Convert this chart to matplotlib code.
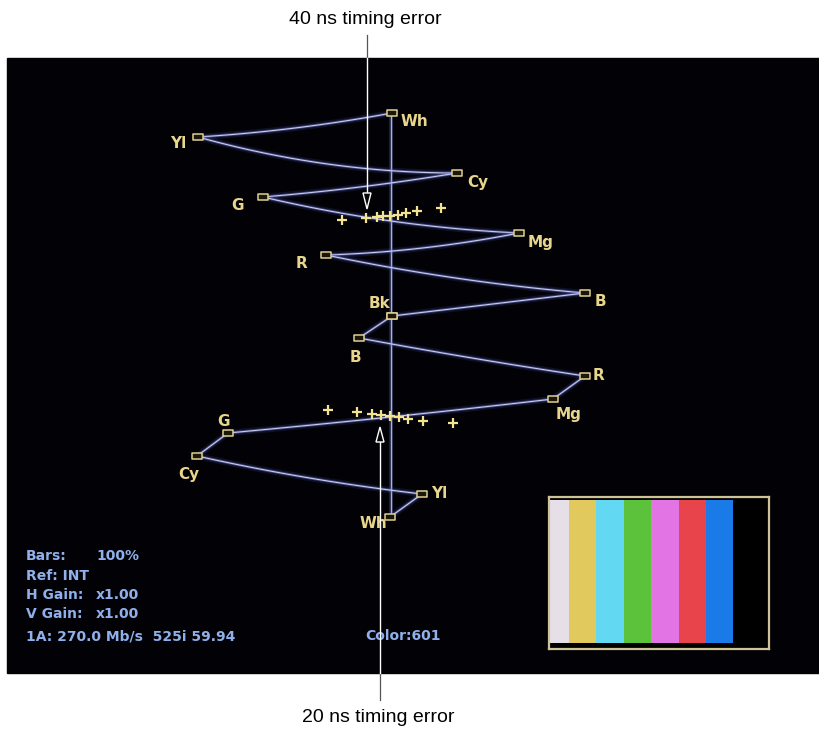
import numpy as np
import matplotlib.pyplot as plt
from matplotlib.patches import Rectangle, Polygon
from matplotlib.path import Path

# Vector (bowtie) display of 100% colour bars, screen coordinates
upper_names = ['Wh', 'Yl', 'Cy', 'G', 'Mg', 'R', 'B', 'Bk']
upper_x = [392, 198, 457, 263, 519, 326, 585, 392]
upper_y = [113, 137, 173, 197, 233, 255, 293, 316]
upper_bend = [3, 9, 2, 6, 4, 4, 0]

lower_names = ['Bk', 'B', 'R', 'Mg', 'G', 'Cy', 'Yl', 'Wh']
lower_x = [392, 359, 585, 553, 228, 197, 422, 390]
lower_y = [316, 338, 376, 399, 433, 456, 494, 517]
lower_bend = [0, 1, 0, 1, 0, 3, 0]

# timing error marks (+)
upper_err_x = [342, 366, 377, 383, 390, 398, 406, 417, 441]
upper_err_y = [220, 218, 217, 216, 216, 215, 213, 211, 208]
lower_err_x = [328, 357, 372, 381, 390, 399, 408, 423, 453]
lower_err_y = [410, 412, 414, 415, 416, 417, 419, 421, 423]

bar_colors = ['#e6dfe8', '#e2c95e', '#62d8f2', '#5cc23c', '#e274e4',
              '#e8444c', '#1a7ae8', '#000000']

status_rows = [('Bars:', '100%'), ('Ref: INT', ''), ('H Gain:', 'x1.00'),
               ('V Gain:', 'x1.00'), ('1A: 270.0 Mb/s  525i 59.94', '')]

label_pos_upper = [(414, 122), (178, 143), (478, 183), (238, 205),
                   (541, 242), (302, 263), (600, 302), (380, 303)]
label_pos_lower = [None, (355, 357), (599, 375), (569, 415),
                   (224, 421), (189, 474), (439, 493), (373, 524)]

fig = plt.figure(figsize=(8.2, 7.33), dpi=100)
fig.patch.set_facecolor('white')
ax = fig.add_axes([0, 0, 1, 1])
ax.set_xlim(0, 820)
ax.set_ylim(733, 0)
ax.axis('off')

ax.add_patch(Rectangle((7, 58), 813, 615, color='#020206', zorder=0))


def trace(xs, ys, z=2):
    ax.plot(xs, ys, color='#4a58c8', lw=4.5, alpha=0.16, zorder=z, solid_capstyle='round')
    ax.plot(xs, ys, color='#8890e0', lw=2.0, alpha=0.4, zorder=z, solid_capstyle='round')
    ax.plot(xs, ys, color='#c8cbf2', lw=0.8, zorder=z)


def curve(x0, y0, x1, y1, bend):
    t = np.linspace(0, 1, 60)
    cx, cy = (x0 + x1) / 2, (y0 + y1) / 2 + 2 * bend
    xs = (1 - t) ** 2 * x0 + 2 * t * (1 - t) * cx + t ** 2 * x1
    ys = (1 - t) ** 2 * y0 + 2 * t * (1 - t) * cy + t ** 2 * y1
    return xs, ys


# centre vertical (luma) trace
ax.plot([391, 391], [113, 517], color='#6070d0', lw=3, alpha=0.25, zorder=1)
ax.plot([391, 391], [113, 517], color='#a8b0e8', lw=1.0, zorder=1)

for xs, ys, bends in [(upper_x, upper_y, upper_bend), (lower_x, lower_y, lower_bend)]:
    for i in range(len(xs) - 1):
        cx, cy = curve(xs[i], ys[i], xs[i + 1], ys[i + 1], bends[i])
        trace(cx, cy)

box = Path([(-1.4, -0.8), (1.4, -0.8), (1.4, 0.8), (-1.4, 0.8), (-1.4, -0.8)],
           [Path.MOVETO, Path.LINETO, Path.LINETO, Path.LINETO, Path.CLOSEPOLY])
for xs, ys in [(upper_x, upper_y), (lower_x, lower_y)]:
    ax.plot(xs, ys, ls='none', marker=box, ms=7, mfc='#1a1808',
            mec='#e0cf90', mew=1.1, zorder=4)

lab_kw = dict(color='#e8d68c', fontsize=11, fontweight='bold',
              ha='center', va='center', zorder=5)
for name, pos in zip(upper_names, label_pos_upper):
    ax.text(pos[0], pos[1], name, **lab_kw)
for name, pos in zip(lower_names, label_pos_lower):
    if pos is not None:
        ax.text(pos[0], pos[1], name, **lab_kw)

for ex, ey in [(upper_err_x, upper_err_y), (lower_err_x, lower_err_y)]:
    ax.plot(ex, ey, ls='none', marker='+', ms=6.5, mew=1.6,
            color='#f2e292', zorder=5)

# status readout
txt_kw = dict(color='#8fb0ea', fontsize=10, fontweight='bold', va='center', zorder=5)
row_y = [556, 576, 595, 614, 636]
for (key, val), y in zip(status_rows, row_y):
    ax.text(26, y, key, **txt_kw)
    if val:
        ax.text(96, y, val, **txt_kw)
ax.text(403, 636, 'Color:601', ha='center', **txt_kw)


# callout arrows
def callout(x, y_text, y_edge, y_tip, y_base):
    ax.plot([x, x], [y_text, y_edge], color='#555555', lw=0.9, zorder=6)
    ax.plot([x, x], [y_edge, y_base], color='white', lw=1.0, zorder=6)
    ax.add_patch(Polygon([(x, y_tip), (x - 4, y_base), (x + 4, y_base)],
                         closed=True, fc='#050505', ec='white', lw=1.0, zorder=7))


callout(367, 35, 58, 209, 193)
callout(380, 700, 673, 427, 442)

ann_kw = dict(color='black', fontsize=14, ha='center', va='center',
              family=['Liberation Sans', 'DejaVu Sans'])
ax.text(365, 20, '40 ns timing error', **ann_kw)
ax.text(378, 717, '20 ns timing error', **ann_kw)

# picture monitor inset with colour bars
bx = fig.add_axes([549 / 820, 1 - 649 / 733, 220 / 820, 152 / 733])
bx.set_facecolor('black')
bx.bar(np.arange(len(bar_colors)), [1] * len(bar_colors), width=1, align='edge',
       bottom=0, color=bar_colors)
bx.set_xlim(0.27, 8.3)
bx.set_ylim(-0.042, 1.02)
bx.set_xticks([])
bx.set_yticks([])
for s in bx.spines.values():
    s.set_color('#cfc39a')
    s.set_linewidth(1.6)

fig.savefig('out.png', dpi=100, facecolor='white')
